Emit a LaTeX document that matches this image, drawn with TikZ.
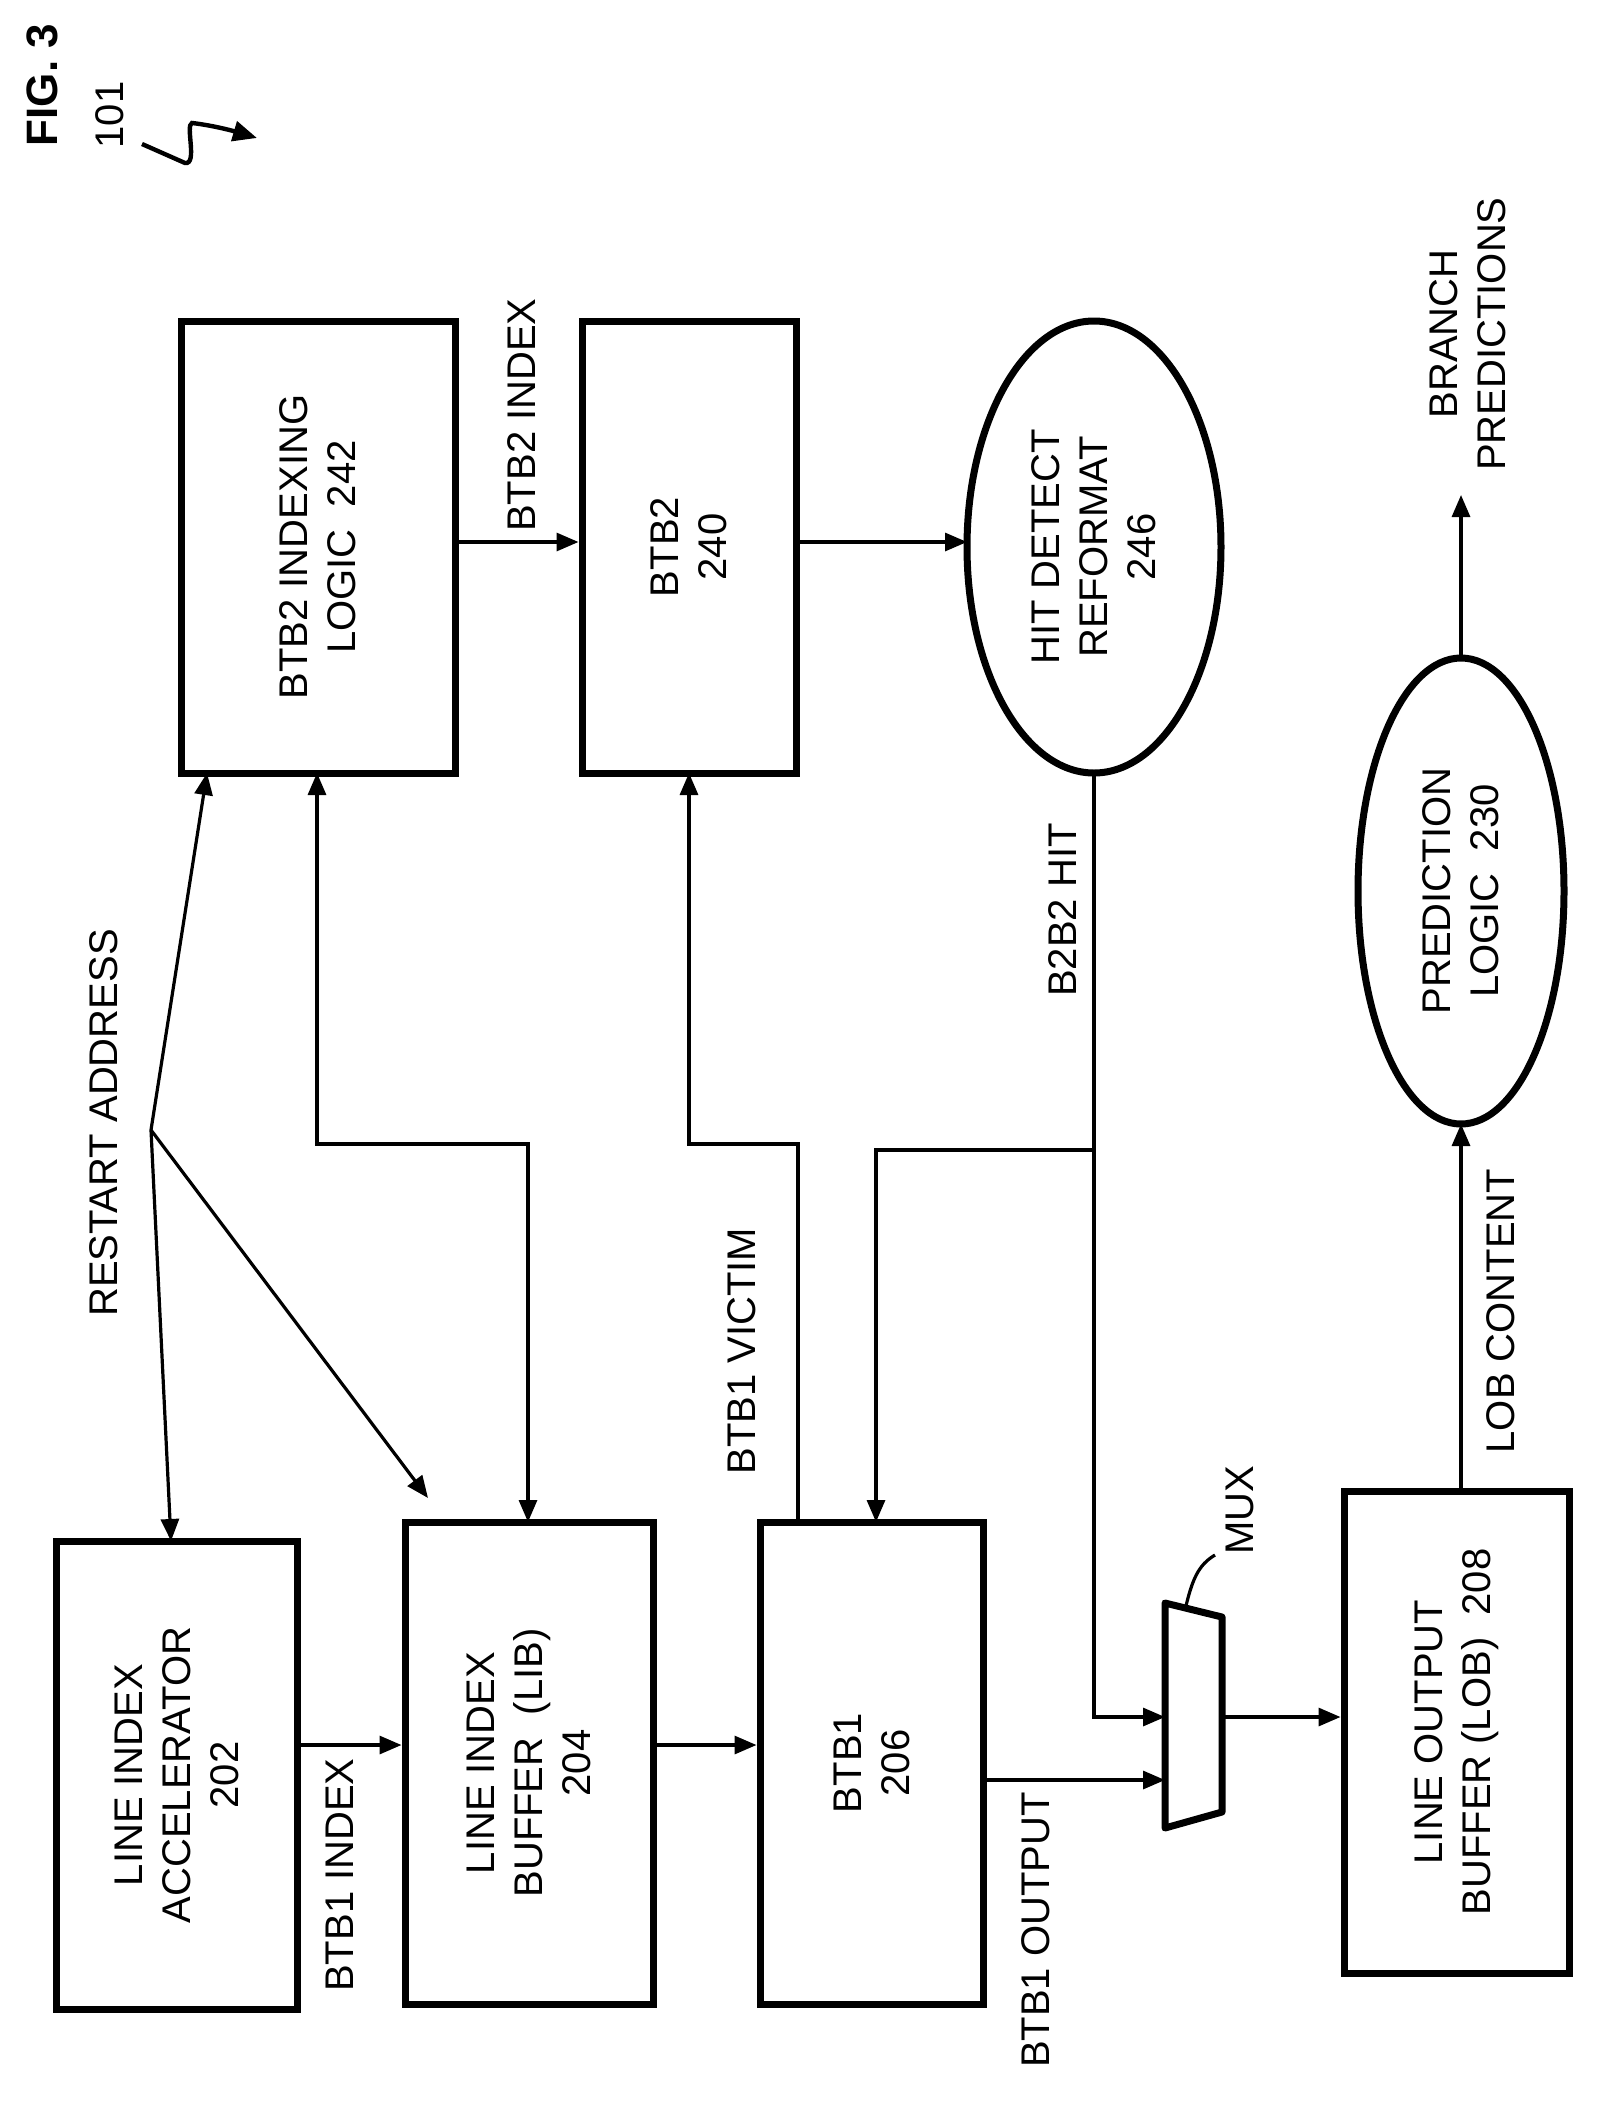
\documentclass[tikz,border=0pt]{standalone}
\usepackage{fontspec}
\setmainfont{Liberation Sans}
\usetikzlibrary{fit,arrows.meta}
\begin{document}
\begin{tikzpicture}[x=0.5pt,y=-0.5pt,
 box/.style={draw,line width=3.5pt,inner sep=0pt},
 ell/.style={draw,ellipse,line width=3.5pt},
 txt/.style={rotate=90,align=center,font=\fontsize{20}{24}\selectfont},
 con/.style={line width=1.6pt},
 arr/.style={con,-{Triangle[length=11pt,width=9pt]}},
 darr/.style={con,{Triangle[length=11pt,width=9pt]}-{Triangle[length=11pt,width=9pt]}}]
\useasboundingbox (0,0) rectangle (1605,2104);
% boxes
\node[box,fit={(56,1541)(297,2009)}] (lia) {};
\node[txt] (liat) at (lia.center) {LINE INDEX\\ACCELERATOR\\202};
\node[box,fit={(405,1522)(653,2004)}] (lib) {};
\node[txt] (libt) at (lib.center) {LINE INDEX\\BUFFER \ (LIB)\\204};
\node[box,fit={(760,1522)(983,2004)}] (btb1) {};
\node[txt] (btb1t) at (btb1.center) {BTB1\\206};
\node[box,fit={(1344,1491)(1569,1973)}] (lob) {};
\node[txt] (lobt) at (lob.center) {LINE OUTPUT\\BUFFER (LOB) \ 208};
\node[box,fit={(181,321)(455,773)}] (idx) {};
\node[txt] (idxt) at (idx.center) {BTB2 INDEXING\\LOGIC \ 242};
\node[box,fit={(582,321)(796,773)}] (btb2) {};
\node[txt] (btb2t) at (btb2.center) {BTB2\\240};
\draw[line width=3.5pt] (1094,547) ellipse [x radius=127,y radius=226];
\node[txt] (hit) at (1094,547) {HIT DETECT\\REFORMAT\\246};
\draw[line width=3.5pt] (1461,891) ellipse [x radius=103,y radius=233];
\node[txt] (pred) at (1461,891) {PREDICTION\\LOGIC \ 230};
% mux
\draw[line width=3.5pt,line join=round] (1165,1603) -- (1222,1617) -- (1222,1812) -- (1165,1828) -- cycle;
\coordinate (muxl) at (1165,1700);
\coordinate (muxr) at (1222,1717);
\draw[con] (1185,1610) .. controls (1192,1580) and (1198,1565) .. (1215,1555);
\node[txt,anchor=west] (muxt) at (1240,1562) {MUX};
% coordinates
\coordinate (ya) at (0,1745);
\coordinate (yb) at (0,1780);
\coordinate (yc) at (0,1717);
\coordinate (yd) at (0,542);
% connectors
\draw[arr] (lia.east |- ya) -- (lib.west |- ya);
\node[txt] (l1) at (340,1875) {BTB1 INDEX};
\draw[arr] (lib.east |- ya) -- (btb1.west |- ya);
\draw[arr] (btb1.east |- yb) -- (muxl |- yb);
\node[txt] (l2) at (1036,1930) {BTB1 OUTPUT};
\draw[arr] (1094,773) -- (1094,1717) -- (muxl |- yc);
\node[txt] (l3) at (1063,910) {B2B2 HIT};
\draw[arr] (muxr) -- (lob.west |- muxr);
\draw[arr] (1094,1150) -- (876,1150) -- (876,1522);
\draw[arr] (798,1522) -- (798,1144) -- (689,1144) -- (689,773);
\node[txt] (l4) at (742,1351) {BTB1 VICTIM};
\draw[arr] (idx.east |- yd) -- (btb2.west |- yd);
\node[txt] (l5) at (522,415) {BTB2 INDEX};
\draw[arr] (btb2.east |- yd) -- (967,542);
\draw[darr] (528,1522) -- (528,1144) -- (317,1144) -- (317,773);
\coordinate (ra) at (151,1130);
\node[txt] (l6) at (104,1123) {RESTART ADDRESS};
\draw[arr] (ra) -- (207,773);
\draw[arr] (ra) -- (171,1541);
\draw[arr] (ra) -- (428,1498);
\draw[arr] (1461,1491) -- (1461,1124);
\node[txt] (l7) at (1501,1311) {LOB CONTENT};
\draw[arr] (1461,658) -- (1461,495);
\node[txt] (l8) at (1468,334) {BRANCH\\PREDICTIONS};
% fig label
\node[txt,font=\fontsize{22}{26}\selectfont\bfseries] (fig) at (42,85) {FIG. 3};
\node[txt] (ref) at (110,115) {101};
\draw[con,line width=2.2pt,-{Triangle[length=12pt,width=10pt]}] (142,144) -- (185,163) .. controls (198,165) and (185,125) .. (192,123) .. controls (210,125) and (230,130) .. (257,138);
\end{tikzpicture}
\end{document}
